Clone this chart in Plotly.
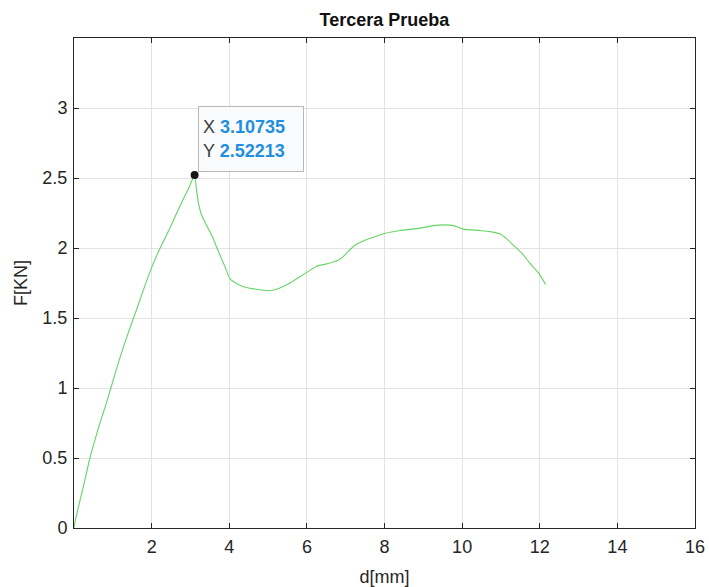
import plotly.graph_objects as go

# Data
d_mm = [0.0, 0.03, 0.08, 0.14, 0.22, 0.31, 0.41, 0.54, 0.68, 0.82, 0.95, 1.1, 1.27,
        1.43, 1.6, 1.8, 2.0, 2.22, 2.45, 2.63, 2.8, 2.96, 3.107,
        3.15, 3.2, 3.27, 3.38, 3.55, 3.76, 3.9, 4.02, 4.2, 4.41, 4.7, 4.97,
        5.15, 5.35, 5.6, 5.82, 6.05, 6.25, 6.48, 6.68, 6.82, 6.94, 7.08, 7.24, 7.54,
        7.8, 8.02, 8.40, 8.87, 9.26, 9.52, 9.78, 10.03, 10.46, 10.75, 10.98, 11.15,
        11.32, 11.55, 11.75, 12.0, 12.15]
F_kn = [0.0, 0.05, 0.11, 0.18, 0.27, 0.38, 0.5, 0.63, 0.76, 0.88, 1.0, 1.14, 1.29,
        1.42, 1.55, 1.71, 1.86, 2.0, 2.13, 2.24, 2.34, 2.43, 2.522,
        2.43, 2.33, 2.25, 2.18, 2.09, 1.95, 1.86, 1.78, 1.745, 1.72, 1.705, 1.695,
        1.70, 1.72, 1.755, 1.795, 1.835, 1.87, 1.885, 1.90, 1.915, 1.94, 1.98, 2.02, 2.06,
        2.085, 2.105, 2.125, 2.14, 2.16, 2.165, 2.16, 2.135, 2.125, 2.115, 2.10, 2.065,
        2.02, 1.96, 1.89, 1.81, 1.74]
tip_x = 3.10735
tip_y = 2.52213
x_ticks = [2, 4, 6, 8, 10, 12, 14, 16]
y_ticks = [0, 0.5, 1, 1.5, 2, 2.5, 3]

font_fam = "Liberation Sans, Arial, sans-serif"
axis_col = "#262626"
grid_col = "#e3e3e3"

fig = go.Figure()
fig.add_trace(go.Scatter(x=d_mm, y=F_kn, mode="lines",
                         line=dict(color="#66d466", width=1.1, shape="spline", smoothing=0.5),
                         hoverinfo="skip"))
fig.add_trace(go.Scatter(x=[tip_x], y=[tip_y], mode="markers",
                         marker=dict(color="#151515", size=8), hoverinfo="skip"))

fig.add_annotation(
    x=tip_x, y=tip_y, xref="x", yref="y", showarrow=False,
    xanchor="left", yanchor="bottom", xshift=3, yshift=3,
    text=("<span style='color:#404040'>X </span><b style='color:#1f8fe0'>3.10735</b><br>"
          "<span style='color:#404040'>Y </span><b style='color:#1f8fe0'>2.52213</b>"),
    align="left", width=96, height=56, borderpad=4,
    bgcolor="rgba(250,251,253,0.97)", bordercolor="#b8b8b8", borderwidth=1,
    font=dict(family=font_fam, size=18),
)

fig.update_layout(
    width=709, height=587,
    margin=dict(l=74, r=14, t=38, b=59, autoexpand=False),
    paper_bgcolor="white", plot_bgcolor="white",
    showlegend=False,
    title=dict(text="<b>Tercera Prueba</b>", x=0.5421, xanchor="center",
               y=1 - 20 / 587, yanchor="middle",
               font=dict(family=font_fam, size=18, color="#111111")),
    font=dict(family=font_fam, size=18, color=axis_col),
)
fig.update_xaxes(
    range=[0, 16], tickvals=x_ticks, ticks="inside", ticklen=5, tickcolor=axis_col,
    showline=True, linecolor=axis_col, linewidth=1, mirror="ticks",
    showgrid=True, gridcolor=grid_col, gridwidth=1, zeroline=False, automargin=False,
    title=dict(text="d[mm]", font=dict(size=18, color=axis_col), standoff=15),
    tickfont=dict(size=18, color=axis_col), ticklabelstandoff=2,
)
fig.update_yaxes(
    range=[0, 3.5], tickvals=y_ticks, ticks="inside", ticklen=5, tickcolor=axis_col,
    showline=True, linecolor=axis_col, linewidth=1, mirror="ticks",
    showgrid=True, gridcolor=grid_col, gridwidth=1, zeroline=False, automargin=False,
    title=dict(text="F[KN]", font=dict(size=18, color=axis_col), standoff=10),
    tickfont=dict(size=18, color=axis_col), ticklabelstandoff=2,
)

fig.write_html("out.html")
